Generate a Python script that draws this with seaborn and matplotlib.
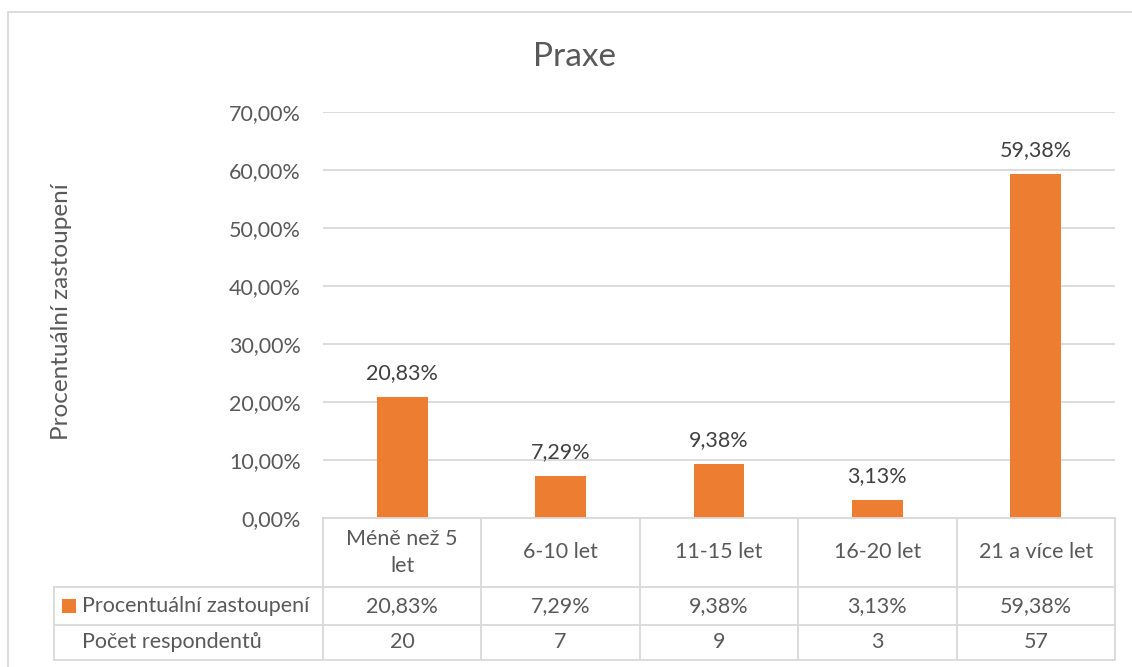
import matplotlib
matplotlib.use("Agg")
import matplotlib.pyplot as plt
import matplotlib.patches as mpatches
import matplotlib.lines as mlines
import seaborn as sns
import pandas as pd

# Data
categories = ["Méně než 5 let", "6-10 let", "11-15 let", "16-20 let", "21 a více let"]
header_labels = ["Méně než 5\nlet", "6-10 let", "11-15 let", "16-20 let", "21 a více let"]
shares = [20.83, 7.29, 9.38, 3.13, 59.38]
counts = [20, 7, 9, 3, 57]
y_ticks = [0, 10, 20, 30, 40, 50, 60, 70]

series_name = "Procentuální zastoupení"
count_name = "Počet respondentů"
title = "Praxe"

ORANGE = "#ED7D31"
TEXT = "#595959"
GRID = "#D9D9D9"
FS = 15.5


def pct(v):
    return f"{v:.2f}".replace(".", ",") + "%"


sns.set_theme(style="white")
plt.rcParams["font.family"] = ["Lato", "DejaVu Sans"]

W, H = 1132, 667
fig = plt.figure(figsize=(W / 100, H / 100), dpi=100)

# plot area in pixel coordinates
x0, x1 = 323, 1115
y_top, y_bot = 112, 518
ax = fig.add_axes([x0 / W, 1 - y_bot / H, (x1 - x0) / W, (y_bot - y_top) / H])

df = pd.DataFrame({"cat": categories, "val": shares})
sns.barplot(data=df, x="cat", y="val", color=ORANGE, width=0.32, ax=ax,
            saturation=1, edgecolor="none")

ax.set_xlim(-0.5, len(categories) - 0.5)
ax.set_ylim(0, 70)
ax.set_yticks(y_ticks)
ax.set_yticklabels([pct(t) for t in y_ticks], color=TEXT, fontsize=FS)
ax.tick_params(axis="y", length=0, pad=16)
ax.set_xticks([])
ax.set_xlabel("")
ax.set_ylabel("")
ax.grid(axis="y", color=GRID, linewidth=1.3)
ax.set_axisbelow(True)
for s in ["top", "right", "left"]:
    ax.spines[s].set_visible(False)
ax.spines["bottom"].set_color(GRID)
ax.spines["bottom"].set_linewidth(1.3)

ax.bar_label(ax.containers[0], labels=[pct(v) for v in shares], padding=10,
             color="#404040", fontsize=FS)

# title and y-axis label
fig.text(575 / W, 1 - 57 / H, title, ha="center", va="center", fontsize=24, color=TEXT)
fig.text(62 / W, 1 - 312 / H, series_name, rotation=90, ha="center", va="center",
         fontsize=17.5, color=TEXT)

# outer chart frame
fig.add_artist(mlines.Line2D([8 / W, 8 / W], [0, 1 - 12 / H], color=GRID, lw=1.3,
                             transform=fig.transFigure))
fig.add_artist(mlines.Line2D([8 / W, 1], [1 - 12 / H, 1 - 12 / H], color=GRID, lw=1.3,
                             transform=fig.transFigure))

# data table below the plot area (pixel -> figure coordinates)
def fx(px):
    return px / W


def fy(py):
    return 1 - py / H


tbl_left = 54
row_edges = [518, 587, 625, 660]
col_w = (x1 - x0) / len(categories)
col_edges = [x0 + i * col_w for i in range(len(categories) + 1)]


def hline(py, xa, xb):
    fig.add_artist(mlines.Line2D([fx(xa), fx(xb)], [fy(py), fy(py)], color=GRID, lw=1.3,
                                 transform=fig.transFigure))


def vline(px, ya, yb):
    fig.add_artist(mlines.Line2D([fx(px), fx(px)], [fy(ya), fy(yb)], color=GRID, lw=1.3,
                                 transform=fig.transFigure))


for py in row_edges[1:]:
    hline(py, tbl_left, x1)
for px in col_edges:
    vline(px, row_edges[0], row_edges[-1])
vline(tbl_left, row_edges[1], row_edges[-1])

for i, lab in enumerate(header_labels):
    cx = (col_edges[i] + col_edges[i + 1]) / 2
    fig.text(fx(cx), fy((row_edges[0] + row_edges[1]) / 2), lab, ha="center", va="center",
             fontsize=FS, color=TEXT, linespacing=1.45)
    fig.text(fx(cx), fy((row_edges[1] + row_edges[2]) / 2), pct(shares[i]), ha="center",
             va="center", fontsize=FS, color=TEXT)
    fig.text(fx(cx), fy((row_edges[2] + row_edges[3]) / 2), str(counts[i]), ha="center",
             va="center", fontsize=FS, color=TEXT)

# legend key and row headers
ymid2 = (row_edges[1] + row_edges[2]) / 2
fig.add_artist(mpatches.Rectangle((fx(62), fy(ymid2 + 7)), 14 / W, 14 / H,
                                  facecolor=ORANGE, edgecolor="none",
                                  transform=fig.transFigure))
fig.text(fx(82), fy(ymid2), series_name, ha="left", va="center", fontsize=FS, color=TEXT)
fig.text(fx(82), fy((row_edges[2] + row_edges[3]) / 2), count_name, ha="left", va="center",
         fontsize=FS, color=TEXT)

fig.savefig("out.png", dpi=100, facecolor="white")
